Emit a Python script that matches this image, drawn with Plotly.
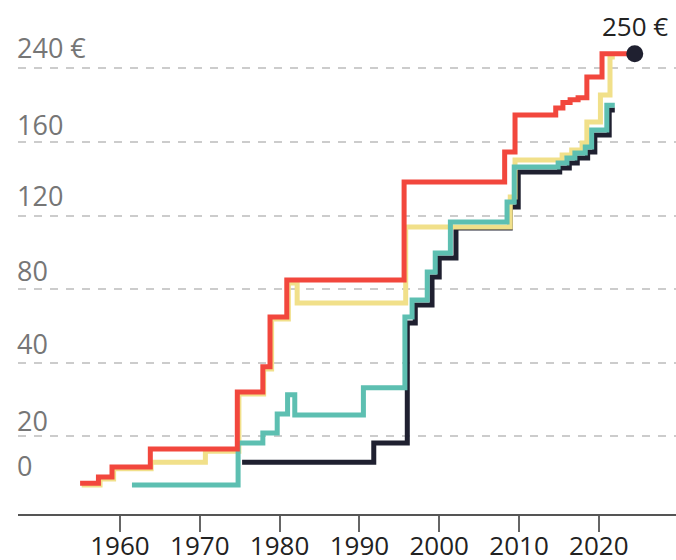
import numpy as np
import plotly.graph_objects as go

# ---------------- data (price steps, in €, by year) ----------------
red_years = [1955.0, 1957.3, 1959.0, 1963.8, 1974.7, 1977.9, 1978.8, 1980.9, 1995.6,
             2008.2, 2009.5, 2014.6, 2015.5, 2016.4, 2017.4, 2018.5, 2020.4, 2024.5]
red_values = [7.3, 9.0, 11.7, 16.6, 32.1, 38.9, 64.9, 85.0, 138.3,
              154.6, 189.3, 197.0, 203.0, 206.0, 208.0, 230.6, 250.0, 250.0]

yellow_years = [1955.2, 1957.5, 1959.2, 1963.9, 1970.7, 1974.9, 1978.0, 1979.0, 1981.1,
                1982.2, 1995.8, 2008.9, 2009.5, 2015.4, 2016.6, 2017.9, 2018.5, 2020.2,
                2021.4, 2022.0]
yellow_values = [6.8, 8.4, 11.2, 13.0, 16.0, 31.5, 38.3, 63.8, 83.4,
                 72.5, 113.8, 130.1, 150.2, 152.9, 155.6, 159.5, 181.7, 211.1,
                 247.7, 247.7]

teal_years = [1961.5, 1974.8, 1977.9, 1979.7, 1981.0, 1981.9, 1990.5, 1995.7, 1996.6,
              1998.5, 1999.5, 2001.4, 2008.5, 2009.4, 2014.9, 2016.0, 2017.0, 2018.3,
              2019.1, 2021.0, 2022.0]
teal_values = [6.8, 18.2, 20.9, 26.1, 31.3, 25.8, 33.2, 64.9, 74.1,
               89.4, 99.7, 116.5, 127.4, 146.4, 148.6, 151.3, 154.0, 157.3,
               173.0, 200.0, 200.0]

black_years = [1975.3, 1991.8, 1996.0, 1997.0, 1999.1, 2000.0, 2002.1, 2008.9, 2009.9,
               2015.1, 2016.3, 2017.3, 2018.6, 2019.5, 2021.3, 2022.0]
black_values = [13.0, 18.2, 61.6, 71.4, 86.6, 97.0, 113.3, 124.7, 143.7,
                145.9, 148.6, 151.3, 154.6, 167.6, 194.8, 194.8]

x_ticks = [1960, 1970, 1980, 1990, 2000, 2010, 2020]
y_tick_values = [0, 20, 40, 80, 120, 160, 240]
y_tick_labels = ["0", "20", "40", "80", "120", "160", "240 €"]
final_label = "250 €"

# the chart's value axis is uneven: each labelled level is one equal step
scale_values = [0, 20, 40, 80, 120, 160, 240, 250, 300]
scale_steps = [0, 1, 2, 3, 4, 5, 6, 6.2, 7.2]


def to_axis(v):
    return np.interp(v, scale_values, scale_steps)


RED = "#F2473D"
YELLOW = "#F1E08A"
TEAL = "#5DBFB1"
DARK = "#1F2030"
FONT = "Open Sans"

fig = go.Figure()
for yrs, vals, col in [(black_years, black_values, DARK),
                       (yellow_years, yellow_values, YELLOW),
                       (teal_years, teal_values, TEAL),
                       (red_years, red_values, RED)]:
    fig.add_trace(go.Scatter(x=yrs, y=to_axis(vals), mode="lines",
                             line=dict(color=col, width=5, shape="hv"),
                             hoverinfo="skip", showlegend=False))

fig.add_trace(go.Scatter(x=[red_years[-1]], y=to_axis([red_values[-1]]), mode="markers",
                         marker=dict(size=17, color=DARK), showlegend=False,
                         hoverinfo="skip", cliponaxis=False))

annotations = [dict(x=red_years[-1], y=float(to_axis(red_values[-1])), xref="x", yref="y",
                    text=final_label, showarrow=False, yshift=28,
                    font=dict(family=FONT, size=26, color="#222222"))]

# value labels sit above their dashed lines
label_shift = {"0": 45, "20": 16, "40": 19, "80": 19, "120": 20, "160": 17, "240 €": 21}
for v, t in zip(y_tick_values, y_tick_labels):
    annotations.append(dict(x=-0.005, y=float(to_axis(v)), xref="paper", yref="y",
                            text=t, showarrow=False, xanchor="left", yanchor="middle",
                            yshift=label_shift[t],
                            font=dict(family=FONT, size=27, color="#767676")))

fig.update_layout(
    width=676, height=560,
    margin=dict(l=18, r=0, t=0, b=46, autoexpand=False),
    paper_bgcolor="white", plot_bgcolor="white",
    font=dict(family=FONT),
    annotations=annotations,
    xaxis=dict(range=[1947.22, 2029.67], tickvals=x_ticks, ticks="outside",
               ticklen=16, tickwidth=1.5, tickcolor="#666666",
               showline=True, linecolor="#555555", linewidth=1.5,
               showgrid=False, zeroline=False, automargin=False,
               ticklabelstandoff=-8,
               tickfont=dict(family=FONT, size=26, color="#222222")),
    yaxis=dict(range=[-0.054, 6.929], tickvals=[float(to_axis(v)) for v in y_tick_values[1:]],
               showticklabels=False, showgrid=True, gridcolor="#cccccc",
               gridwidth=1.5, griddash="8px,8px", zeroline=False, fixedrange=True,
               automargin=False),
)

fig.write_html("out.html", config={"displayModeBar": False},
               post_script="document.body.style.margin='0px';")
